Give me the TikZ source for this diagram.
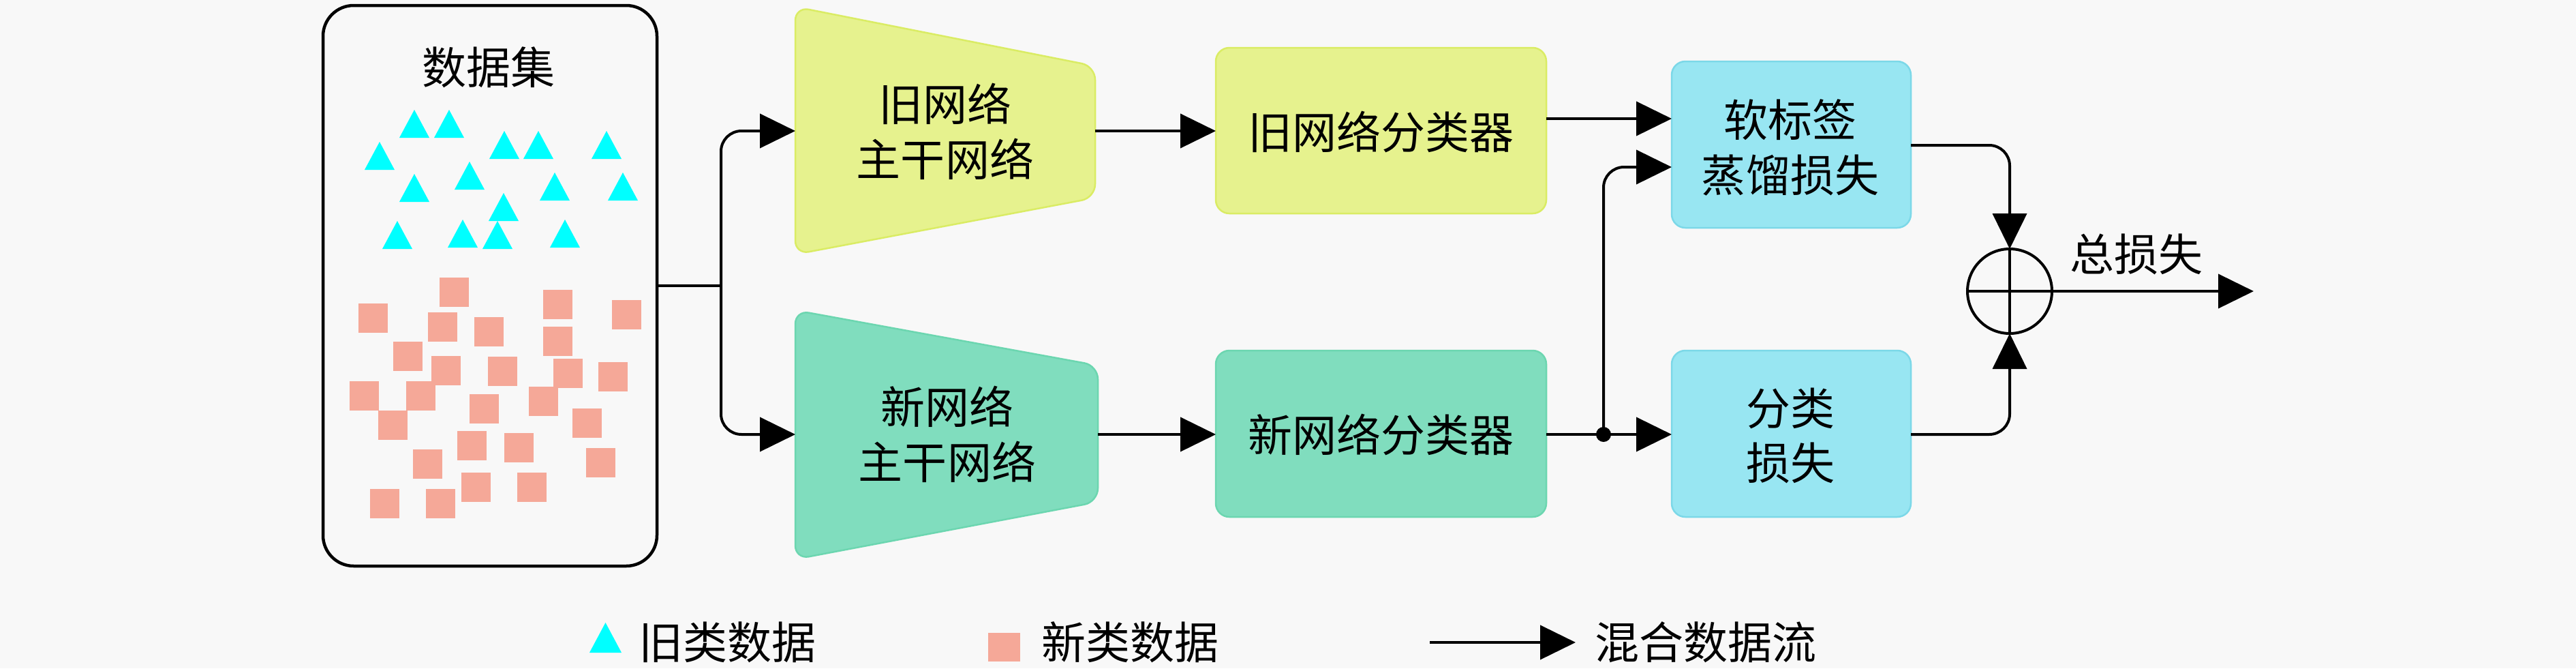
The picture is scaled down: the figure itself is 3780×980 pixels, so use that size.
\documentclass[tikz,border=0pt]{standalone}
\usepackage{fontspec}
\newfontfamily\cjk{Noto Sans CJK SC}
\usetikzlibrary{arrows.meta}
\definecolor{bg}{RGB}{248,248,248}
\definecolor{yellowf}{RGB}{230,242,142}
\definecolor{yellowd}{RGB}{218,236,100}
\definecolor{mintf}{RGB}{128,221,190}
\definecolor{mintd}{RGB}{108,214,176}
\definecolor{bluef}{RGB}{152,230,242}
\definecolor{blued}{RGB}{124,216,232}
\definecolor{cyanc}{RGB}{0,255,255}
\definecolor{salmon}{RGB}{245,168,152}
\begin{document}
\begin{tikzpicture}[x=0.1mm,y=-0.1mm,
  flow/.style={line width=0.4mm, -{Triangle[length=5.2mm,width=5mm]}},
  plain/.style={line width=0.4mm},
  txt/.style={font=\cjk\fontsize{18.5}{23}\selectfont, align=center, inner sep=0pt},
  box/.style={draw, line width=0.25mm, rounded corners=2mm, inner sep=0pt, outer sep=0pt},
  trap/.style={line width=0.25mm, rounded corners=2mm}
]
\fill[bg] (0,0) rectangle (3780,980);
\useasboundingbox (0,0) rectangle (3780,980);

% dataset box
\node[draw, line width=0.45mm, rounded corners=4.5mm, minimum width=49mm, minimum height=82.2mm, inner sep=0pt, outer sep=0pt] (ds) at (719,419) {};
\node[txt] (dstitle) at (717,99) {数据集};
\foreach \x/\y in {608/182,659/182,557/229,740/213,790/213,890/213,608/276,689/258,814/274,914/274,739/304,583/345,679/343,730/345,829/343}
  \fill[cyanc] ({\x-22},{\y+20}) -- ({\x+22},{\y+20}) -- (\x,{\y-21}) -- cycle;
\foreach \x/\y in {666/428,547/466,818/446,919/461,649/479,717/486,818/500,598/522,654/543,737/544,833/547,899/552,534/580,617/580,710/599,797/588,576/623,861/620,692/653,761/656,627/680,881/678,698/714,780/714,564/738,646/738}
  \fill[salmon] ({\x-21.5},{\y-21.5}) rectangle ({\x+21.5},{\y+21.5});

% backbones
\draw[trap, draw=yellowd, fill=yellowf] (1167,10) -- (1607,97) -- (1607,290) -- (1167,373) -- cycle;
\node[txt] (obb) at (1387,193) {旧网络\\主干网络};
\coordinate (obbin) at (1167,192);
\coordinate (obbout) at (1607,192);
\draw[trap, draw=mintd, fill=mintf] (1167,455) -- (1611,536) -- (1611,736) -- (1167,820) -- cycle;
\node[txt] (nbb) at (1390,637) {新网络\\主干网络};
\coordinate (nbbin) at (1167,637);
\coordinate (nbbout) at (1611,637);

% classifiers
\node[box, draw=yellowd, fill=yellowf, minimum width=48.5mm, minimum height=24.3mm] (ocls) at (2026.5,191.5) {};
\node[txt] (oclst) at (2026.5,193) {旧网络分类器};
\node[box, draw=mintd, fill=mintf, minimum width=48.5mm, minimum height=24.4mm] (ncls) at (2026.5,636) {};
\node[txt] (nclst) at (2026.5,637) {新网络分类器};

% loss boxes
\node[box, draw=blued, fill=bluef, minimum width=35.1mm, minimum height=24.4mm] (soft) at (2628.5,212) {};
\node[txt] (softt) at (2627,216) {软标签\\蒸馏损失};
\node[box, draw=blued, fill=bluef, minimum width=35.1mm, minimum height=24.4mm] (closs) at (2628.5,636) {};
\node[txt] (closst) at (2627,639) {分类\\损失};

\coordinate (split) at (1058,419);
\coordinate (oclsout) at (2269,174);
\coordinate (softin1) at (2453,174);
\coordinate (softin2) at (2453,245);
\coordinate (softout) at (2804,213);
\coordinate (clossout) at (2804,637);

% sum node
\node[circle, draw, line width=0.4mm, minimum size=12.4mm, inner sep=0pt, outer sep=0pt] (sum) at (2949,427) {};
\draw[plain] (sum.north) -- (sum.south);
\draw[plain] (sum.west) -- (sum.east);
\coordinate (out) at (3307,427);
\node[txt] (tot) at (3135,373) {总损失};

% connectors
\draw[plain] (ds.east) -- (split);
\draw[flow, rounded corners=3mm] (split) |- (obbin);
\draw[flow, rounded corners=3mm] (split) |- (nbbin);
\draw[flow] (obbout) -- (obbout -| ocls.west);
\draw[flow] (nbbout) -- (nbbout -| ncls.west);
\draw[flow] (oclsout) -- (softin1);
\draw[flow] (ncls.east |- clossout) -- (closs.west |- clossout);
\node[circle, fill=black, inner sep=0pt, minimum size=2.2mm] (dot) at (2353,637) {};
\draw[flow, rounded corners=3mm] (dot.center) |- (softin2);
\draw[flow, rounded corners=3mm] (softout) -| (sum.north);
\draw[flow, rounded corners=3mm] (clossout) -| (sum.south);
\draw[flow] (sum.east) -- (out);

% legend
\fill[cyanc] (865,957) -- (912,957) -- (888.5,913) -- cycle;
\node[txt, anchor=west] (leg1) at (937,942) {旧类数据};
\fill[salmon] (1450,928) rectangle (1497,970);
\node[txt, anchor=west] (leg2) at (1528,942) {新类数据};
\coordinate (legA) at (2098,942);
\coordinate (legB) at (2312,942);
\draw[flow] (legA) -- (legB);
\node[txt, anchor=west] (leg3) at (2340,942) {混合数据流};
\end{tikzpicture}
\end{document}
